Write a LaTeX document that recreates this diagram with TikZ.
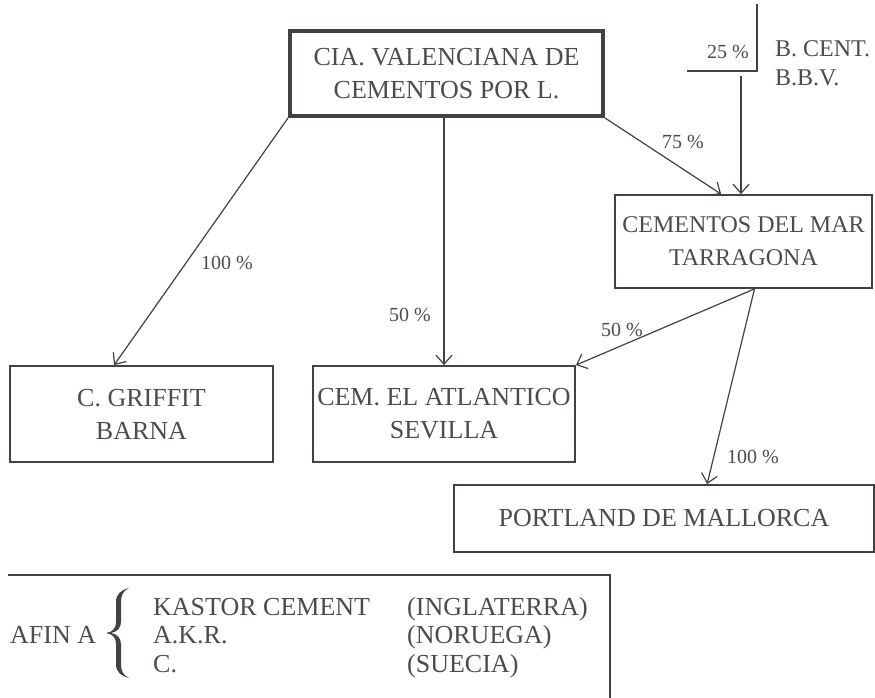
\documentclass[tikz,border=0pt]{standalone}
\usepackage{fontspec}
\setmainfont{Liberation Serif}
\usetikzlibrary{arrows.meta,calc}
\definecolor{ink}{RGB}{70,64,64}
\definecolor{txt}{RGB}{80,74,74}
\begin{document}
\begin{tikzpicture}[x=1pt,y=-1pt,
  box/.style={draw=ink,line width=1.8pt,rectangle,inner sep=0pt,align=center,text=txt,font=\fontsize{26}{33}\selectfont},
  bigbox/.style={box,line width=4pt},
  link/.style={draw=ink,line width=1.2pt,-{Straight Barb[length=9pt,width=16pt,line width=1.2pt]}},
  pct/.style={text=txt,font=\fontsize{20}{24}\selectfont,inner sep=0pt},
  lbl/.style={text=txt,font=\fontsize{26}{33}\selectfont,inner sep=0pt,anchor=base west},
  sidelbl/.style={text=txt,font=\fontsize{24}{30}\selectfont,inner sep=0pt,anchor=base west}]
\useasboundingbox[fill=white] (0,0) rectangle (875,698);

% boxes
\node[bigbox,minimum width=313pt,minimum height=85pt] (cia) at (446.5,73.5) {CIA. VALENCIANA DE\\CEMENTOS POR L.};
\node[box,minimum width=257pt,minimum height=93pt,font=\fontsize{24}{33}\selectfont] (cdm) at (743.5,241.5) {CEMENTOS DEL MAR\\TARRAGONA};
\node[box,minimum width=263pt,minimum height=96pt] (grif) at (141.5,414) {C. GRIFFIT\\BARNA};
\node[box,minimum width=262pt,minimum height=96pt] (atl) at (444,414) {CEM. EL ATLANTICO\\SEVILLA};
\node[box,minimum width=420pt,minimum height=67pt] (port) at (664,518.5) {PORTLAND DE MALLORCA};

% top right shareholder mark
\coordinate (vtop) at (757,4);
\coordinate (corner) at (757,71);
\coordinate (hleft) at (687,71);
\draw[ink,line width=1.2pt] (vtop) -- (corner) -- (hleft);
\node[pct] (p25) at (728,52) {25 \%};
\node[sidelbl] (bcent) at (775,57) {B. CENT.};
\node[sidelbl] (bbv) at (775,86) {B.B.V.};
\coordinate (bt) at (741,76);

% connection points
\coordinate (cdmin75) at ($(cdm.north west)+(107,0)$);
\coordinate (cdmout) at ($(cdm.south)+(11,0)$);
\coordinate (portin) at ($(port.north west)+(254,0)$);
\coordinate (grifin) at ($(grif.north west)+(105,0)$);

% connectors
\draw[link] (cia.south west) -- (grifin);
\draw[link] (cia.south -| atl.north) -- (atl.north);
\draw[link] (cia.south east) -- (cdmin75);
\draw[link] (bt) -- (bt |- cdm.north);
\draw[link] (cdmout) -- (atl.north east);
\draw[link] (cdmout) -- (portin);

% percentages
\node[pct] (p100a) at (227,263) {100 \%};
\node[pct] (p50a) at (410,315) {50 \%};
\node[pct] (p75) at (683,142) {75 \%};
\node[pct] (p50b) at (622,330) {50 \%};
\node[pct] (p100b) at (753,457) {100 \%};

% bottom frame
\coordinate (fl) at (8,575);
\coordinate (fr) at (610,575);
\coordinate (fb) at (610,698);
\draw[ink,line width=1.8pt] (fl) -- (fr) -- (fb);

\node[lbl] (afin) at (10,643) {AFIN A};
% curly brace
\fill[ink] (129,588) .. controls (121,590) and (116,594) .. (116,602)
  -- (116,622) .. controls (116,628) and (113,632) .. (106,633)
  .. controls (113,634) and (116,638) .. (116,644)
  -- (116,664) .. controls (116,672) and (121,676) .. (129,678)
  .. controls (123,675) and (121,671) .. (121,664)
  -- (121,644) .. controls (121,638) and (117,634) .. (111,633)
  .. controls (117,632) and (121,628) .. (121,622)
  -- (121,602) .. controls (121,595) and (123,591) .. (129,588) -- cycle;
\node[lbl] (k1) at (153,615) {KASTOR CEMENT};
\node[lbl] (k2) at (153,643) {A.K.R.};
\node[lbl] (k3) at (153,672) {C.};
\node[lbl] (c1) at (407,615) {(INGLATERRA)};
\node[lbl] (c2) at (407,643) {(NORUEGA)};
\node[lbl] (c3) at (407,672) {(SUECIA)};
\end{tikzpicture}
\end{document}
